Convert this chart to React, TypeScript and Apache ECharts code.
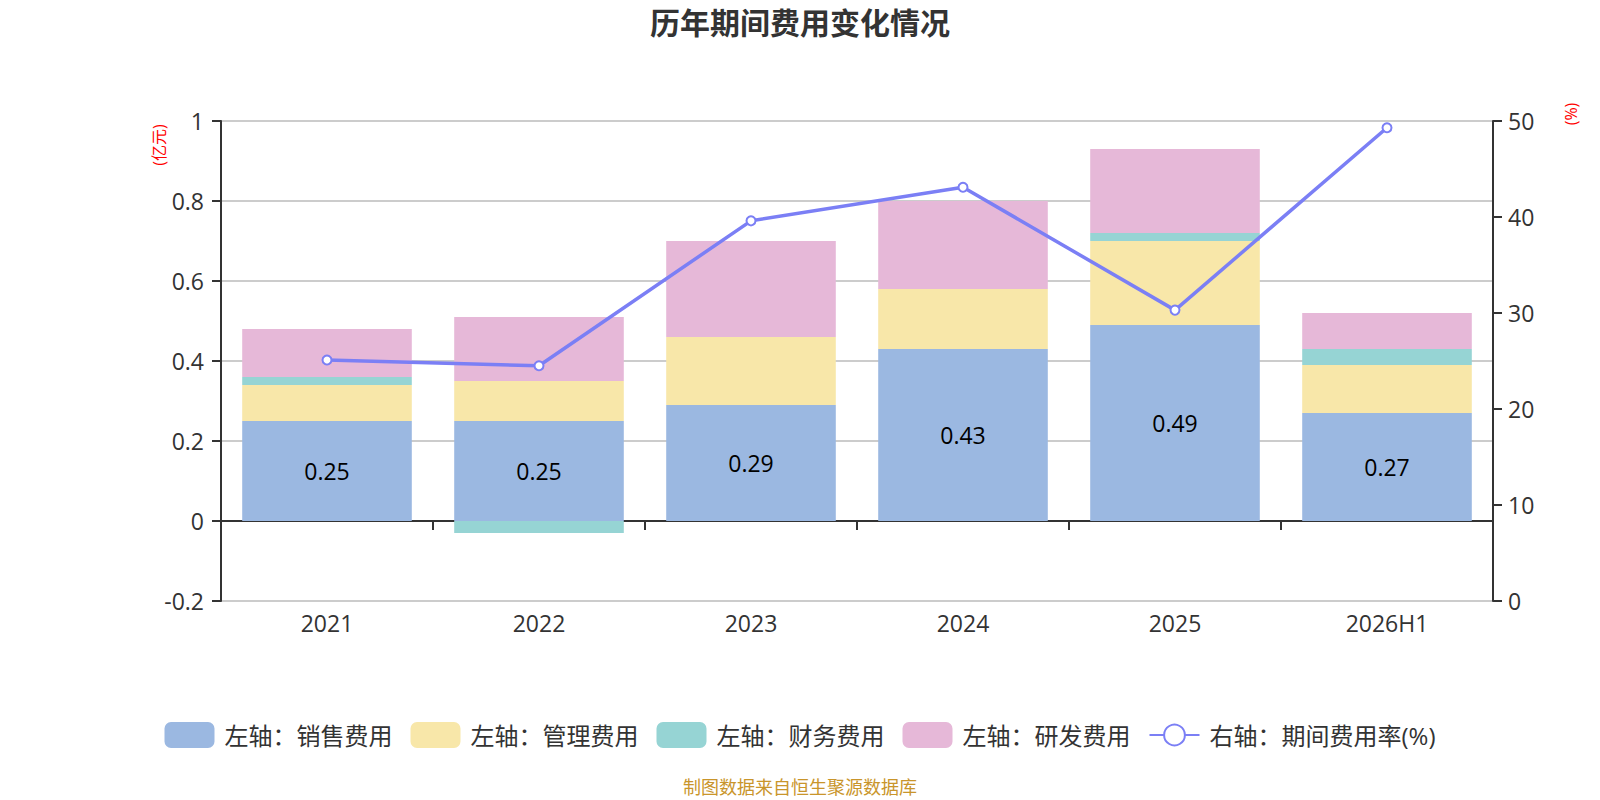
import { useEffect, useRef } from "react"
import * as echarts from "echarts"

const years = ["2021", "2022", "2023", "2024", "2025", "2026H1"]
const salesCost = [0.25, 0.25, 0.29, 0.43, 0.49, 0.27]
const adminCost = [0.09, 0.10, 0.17, 0.15, 0.21, 0.12]
const financeCost = [0.02, -0.03, 0, 0, 0.02, 0.04]
const rdCost = [0.12, 0.16, 0.24, 0.22, 0.21, 0.09]
const costRate = [25.1, 24.5, 39.6, 43.1, 30.3, 49.3]

const FONT = "'Open Sans', 'Noto Sans CJK SC', sans-serif"

export default function App() {
    const chartRef = useRef<HTMLDivElement>(null)

    useEffect(() => {
        document.body.style.margin = "0"
        document.body.style.overflow = "hidden"
        if (!chartRef.current) return
        const chart = echarts.init(chartRef.current, undefined, { renderer: "svg" })

        // 堆叠柱子
        const barSeries = (name: string, data: number[], color: string, label = false) => ({
            name,
            type: "bar" as const,
            stack: "total",
            barWidth: "80%",
            data,
            itemStyle: { color },
            label: {
                show: label,
                position: "inside" as const,
                fontSize: 23,
                color: "#000",
                fontFamily: FONT,
            },
        })

        const axisLine = { show: true, lineStyle: { color: "#333", width: 2 } }
        const axisTick = { show: true, length: 9, lineStyle: { color: "#333", width: 2 } }

        const option: any = {
            animation: false,
            textStyle: { fontFamily: FONT },
            title: [
                {
                    text: "历年期间费用变化情况",
                    left: "center",
                    top: 2,
                    textStyle: { fontSize: 30, fontWeight: "bold", color: "#333", fontFamily: FONT },
                },
                {
                    text: "制图数据来自恒生聚源数据库",
                    left: "center",
                    top: 773,
                    textStyle: { fontSize: 18, fontWeight: "normal", color: "#C9952B", fontFamily: FONT },
                },
            ],
            legend: {
                top: 717,
                left: "center",
                itemWidth: 50,
                itemHeight: 26,
                itemGap: 18,
                textStyle: { fontSize: 24, color: "#333", fontFamily: FONT, padding: [0, 0, 0, 5] },
                data: [
                    { name: "左轴：销售费用", icon: "roundRect" },
                    { name: "左轴：管理费用", icon: "roundRect" },
                    { name: "左轴：财务费用", icon: "roundRect" },
                    { name: "左轴：研发费用", icon: "roundRect" },
                    { name: "右轴：期间费用率(%)" },
                ],
            },
            grid: { left: 221, right: 107, top: 121, bottom: 199 },
            xAxis: [
                {
                    type: "category",
                    data: years,
                    axisLine: { show: false, onZero: false },
                    axisTick: { show: false },
                    axisLabel: { fontSize: 23, color: "#333", margin: 10 },
                },
                {
                    type: "category",
                    data: years,
                    position: "bottom",
                    axisLine: { ...axisLine, onZero: true, onZeroAxisIndex: 0 },
                    axisTick,
                    axisLabel: { show: false },
                },
            ],
            yAxis: [
                {
                    type: "value",
                    min: -0.2,
                    max: 1,
                    interval: 0.2,
                    axisLine,
                    axisTick,
                    axisLabel: { fontSize: 23, color: "#333", margin: 17 },
                    splitLine: { show: true, lineStyle: { color: "#ccc", width: 2 } },
                },
                {
                    type: "value",
                    min: 0,
                    max: 50,
                    interval: 10,
                    position: "right",
                    axisLine,
                    axisTick,
                    axisLabel: { fontSize: 23, color: "#333", margin: 15 },
                    splitLine: { show: false },
                },
            ],
            graphic: [
                {
                    type: "text",
                    x: 159,
                    y: 145,
                    rotation: Math.PI / 2,
                    style: {
                        text: "(亿元)",
                        fill: "#ff0000",
                        fontSize: 16,
                        fontFamily: FONT,
                        align: "center",
                        verticalAlign: "middle",
                    },
                },
                {
                    type: "text",
                    x: 1571,
                    y: 114,
                    rotation: Math.PI / 2,
                    style: {
                        text: "(%)",
                        fill: "#ff0000",
                        fontSize: 16,
                        fontFamily: FONT,
                        align: "center",
                        verticalAlign: "middle",
                    },
                },
            ],
            series: [
                barSeries("左轴：销售费用", salesCost, "#9BB8E1", true),
                barSeries("左轴：管理费用", adminCost, "#F8E7A9"),
                barSeries("左轴：财务费用", financeCost, "#96D4D4"),
                barSeries("左轴：研发费用", rdCost, "#E6B8D8"),
                {
                    name: "右轴：期间费用率(%)",
                    type: "line",
                    yAxisIndex: 1,
                    data: costRate,
                    symbol: "emptyCircle",
                    symbolSize: 9,
                    lineStyle: { color: "#7B7FF5", width: 3.5 },
                    itemStyle: { color: "#7B7FF5", borderWidth: 2 },
                    z: 5,
                },
            ],
        }

        chart.setOption(option)
        return () => {
            chart.dispose()
        }
    }, [])

    return <div ref={chartRef} style={{ width: 1600, height: 800 }} />
}
